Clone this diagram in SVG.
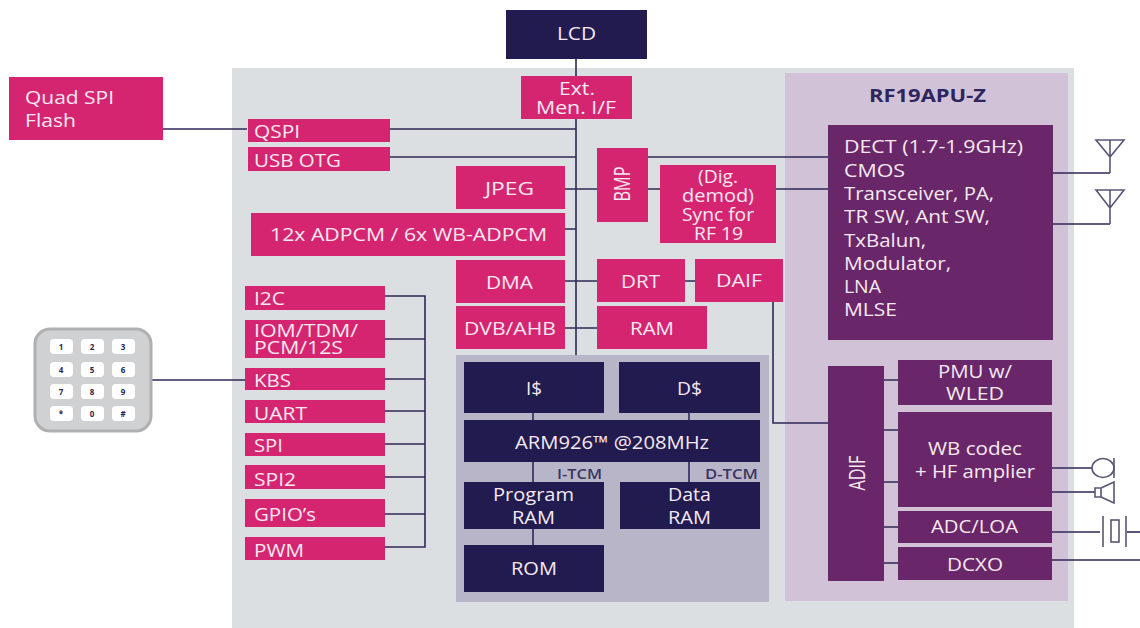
<svg xmlns="http://www.w3.org/2000/svg" width="1140" height="628" viewBox="0 0 1140 628">
<style>
text{font-family:"Open Sans","Noto Sans",sans-serif;font-size:18px;fill:#f6e9f0;text-anchor:middle}
.l{text-anchor:start}
.r{font-size:21px}
.p{fill:#d52571}.n{fill:#211b50}.v{fill:#692769}
.c{fill:none;stroke:#2e2857;stroke-width:1.6}
.k{fill:#fff}.kt{font-size:8px;font-weight:bold;fill:#2a2650}
.d{font-size:15px;fill:#3a3463;font-weight:600}
.t{font-weight:bold;fill:#2e2560;font-size:17px}
.w{fill:none;stroke:#5c5475;stroke-width:1.6}
</style>
<g id="backgrounds">
<rect x="232" y="68" width="842" height="560" fill="#dcdfe2"/>
<rect x="785" y="73" width="283" height="528" fill="#d2c2d7"/>
<rect x="456" y="355" width="313" height="247" fill="#b9b5c8"/>
</g>
<g id="connectors">
<path class="c" d="M576 58V355M163 129H247M390 129H576M390 157H576M565 189H597M565 229H576M565 281H597M685 281H695M565 328H597M648 189H660M648 157H828M776 189H828"/>
<path class="c" d="M385 296H425V547H385M385 339H425M385 379H425M385 411H425M385 444H425M385 477H425M385 514H425M148 380H247"/>
<path class="c" d="M773 302V423H828M533 413V420M689 413V420M533 462V482M689 462V482M533 528V545"/>
<path class="c" d="M884 380H898M884 430H898M884 482H898M884 527H898M884 563H898"/>
<path class="c" d="M1053 173H1110M1053 224H1110M1052 468H1092M1052 492H1095M1052 532H1100M1052 560H1140"/>
</g>
<g id="lcd"><rect class="n" x="506" y="10" width="141" height="49"/><text x="576.500" y="40" textLength="39" lengthAdjust="spacingAndGlyphs">LCD</text></g>
<g id="quad-spi-flash"><rect class="p" x="9" y="77" width="154" height="63"/><text class="l" x="25" y="104" textLength="89" lengthAdjust="spacingAndGlyphs">Quad SPI</text><text class="l" x="25" y="127" textLength="51" lengthAdjust="spacingAndGlyphs">Flash</text></g>
<g id="ext-mem"><rect class="p" x="521" y="76" width="111" height="43"/><text x="577" y="95" textLength="36" lengthAdjust="spacingAndGlyphs">Ext.</text><text x="576" y="114" textLength="80" lengthAdjust="spacingAndGlyphs">Men. I/F</text></g>
<g id="qspi"><rect class="p" x="248" y="119" width="142" height="23"/><text class="l" x="254" y="138" textLength="46" lengthAdjust="spacingAndGlyphs">QSPI</text></g>
<g id="usb-otg"><rect class="p" x="248" y="147" width="142" height="24"/><text class="l" x="254" y="167" textLength="87" lengthAdjust="spacingAndGlyphs">USB OTG</text></g>
<g id="jpeg"><rect class="p" x="456" y="166" width="109" height="43"/><text x="509.500" y="195" textLength="49" lengthAdjust="spacingAndGlyphs">JPEG</text></g>
<g id="adpcm"><rect class="p" x="251" y="213" width="314" height="43"/><text x="408.500" y="241" textLength="277" lengthAdjust="spacingAndGlyphs">12x ADPCM / 6x WB-ADPCM</text></g>
<g id="bmp"><rect class="p" x="597" y="148" width="51" height="74"/><text class="r" transform="translate(630 184) rotate(-90)" textLength="35" lengthAdjust="spacingAndGlyphs">BMP</text></g>
<g id="sync"><rect class="p" x="660" y="165" width="116" height="78"/><text x="718" y="183" textLength="40" lengthAdjust="spacingAndGlyphs">(Dig.</text><text x="718" y="202" textLength="72" lengthAdjust="spacingAndGlyphs">demod)</text><text x="718" y="221" textLength="72" lengthAdjust="spacingAndGlyphs">Sync for</text><text x="718.500" y="240" textLength="49" lengthAdjust="spacingAndGlyphs">RF 19</text></g>
<g id="dma"><rect class="p" x="456" y="260" width="109" height="43"/><text x="509.500" y="289" textLength="47" lengthAdjust="spacingAndGlyphs">DMA</text></g>
<g id="drt"><rect class="p" x="597" y="259" width="88" height="43"/><text x="640.500" y="288" textLength="39" lengthAdjust="spacingAndGlyphs">DRT</text></g>
<g id="daif"><rect class="p" x="695" y="259" width="88" height="43"/><text x="739" y="287" textLength="46" lengthAdjust="spacingAndGlyphs">DAIF</text></g>
<g id="dvb"><rect class="p" x="456" y="306" width="109" height="43"/><text x="510" y="335" textLength="92" lengthAdjust="spacingAndGlyphs">DVB/AHB</text></g>
<g id="ram"><rect class="p" x="597" y="306" width="110" height="43"/><text x="652" y="335" textLength="44" lengthAdjust="spacingAndGlyphs">RAM</text></g>
<g id="i2c"><rect class="p" x="245" y="286" width="140" height="24"/><text class="l" x="254" y="305" textLength="31" lengthAdjust="spacingAndGlyphs">I2C</text></g>
<g id="iom"><rect class="p" x="245" y="320" width="140" height="38"/><text class="l" x="254" y="337" textLength="104" lengthAdjust="spacingAndGlyphs">IOM/TDM/</text><text class="l" x="254" y="354" textLength="89" lengthAdjust="spacingAndGlyphs">PCM/12S</text></g>
<g id="kbs"><rect class="p" x="245" y="368" width="140" height="22"/><text class="l" x="254" y="387" textLength="37" lengthAdjust="spacingAndGlyphs">KBS</text></g>
<g id="uart"><rect class="p" x="245" y="400" width="140" height="23"/><text class="l" x="254" y="420" textLength="53" lengthAdjust="spacingAndGlyphs">UART</text></g>
<g id="spi"><rect class="p" x="245" y="433" width="140" height="23"/><text class="l" x="254" y="452" textLength="29" lengthAdjust="spacingAndGlyphs">SPI</text></g>
<g id="spi2"><rect class="p" x="245" y="465" width="140" height="24"/><text class="l" x="254" y="486" textLength="42" lengthAdjust="spacingAndGlyphs">SPI2</text></g>
<g id="gpio"><rect class="p" x="245" y="499" width="140" height="28"/><text class="l" x="254" y="521" textLength="62" lengthAdjust="spacingAndGlyphs">GPIO’s</text></g>
<g id="pwm"><rect class="p" x="245" y="537" width="140" height="23"/><text class="l" x="254" y="557" textLength="50" lengthAdjust="spacingAndGlyphs">PWM</text></g>
<g id="keypad">
<rect x="35" y="329" width="116" height="102" rx="15" fill="#cfd1d3" stroke="#aeb0b2" stroke-width="3"/>
<rect class="k" x="50" y="339" width="23" height="15" rx="4"/><rect class="k" x="81" y="339" width="23" height="15" rx="4"/><rect class="k" x="112" y="339" width="23" height="15" rx="4"/>
<rect class="k" x="50" y="362" width="23" height="15" rx="4"/><rect class="k" x="81" y="362" width="23" height="15" rx="4"/><rect class="k" x="112" y="362" width="23" height="15" rx="4"/>
<rect class="k" x="50" y="384" width="23" height="15" rx="4"/><rect class="k" x="81" y="384" width="23" height="15" rx="4"/><rect class="k" x="112" y="384" width="23" height="15" rx="4"/>
<rect class="k" x="50" y="406" width="23" height="15" rx="4"/><rect class="k" x="81" y="406" width="23" height="15" rx="4"/><rect class="k" x="112" y="406" width="23" height="15" rx="4"/>
<text class="kt" x="61" y="350">1</text><text class="kt" x="92" y="350">2</text><text class="kt" x="123" y="350">3</text>
<text class="kt" x="61" y="373">4</text><text class="kt" x="92" y="373">5</text><text class="kt" x="123" y="373">6</text>
<text class="kt" x="61" y="395">7</text><text class="kt" x="92" y="395">8</text><text class="kt" x="123" y="395">9</text>
<text class="kt" x="61" y="417">*</text><text class="kt" x="92" y="417">0</text><text class="kt" x="123" y="417">#</text>
</g>
<g id="icache"><rect class="n" x="464" y="362" width="140" height="51"/><text x="534" y="395" textLength="16" lengthAdjust="spacingAndGlyphs">I$</text></g>
<g id="dcache"><rect class="n" x="619" y="362" width="141" height="51"/><text x="689.500" y="395" textLength="25" lengthAdjust="spacingAndGlyphs">D$</text></g>
<g id="arm"><rect class="n" x="464" y="420" width="296" height="42"/><text x="612" y="449" textLength="194" lengthAdjust="spacingAndGlyphs">ARM926™ @208MHz</text></g>
<text class="d" x="579.500" y="479" textLength="45" lengthAdjust="spacingAndGlyphs">I-TCM</text>
<text class="d" x="731.500" y="479" textLength="53" lengthAdjust="spacingAndGlyphs">D-TCM</text>
<g id="program-ram"><rect class="n" x="464" y="482" width="140" height="47"/><text x="533.500" y="501" textLength="81" lengthAdjust="spacingAndGlyphs">Program</text><text x="533.500" y="524" textLength="43" lengthAdjust="spacingAndGlyphs">RAM</text></g>
<g id="data-ram"><rect class="n" x="620" y="482" width="140" height="47"/><text x="689.500" y="501" textLength="43" lengthAdjust="spacingAndGlyphs">Data</text><text x="689.500" y="524" textLength="43" lengthAdjust="spacingAndGlyphs">RAM</text></g>
<g id="rom"><rect class="n" x="464" y="545" width="140" height="47"/><text x="534" y="575" textLength="46" lengthAdjust="spacingAndGlyphs">ROM</text></g>
<text class="t" x="927.500" y="102" textLength="117" lengthAdjust="spacingAndGlyphs">RF19APU-Z</text>
<g id="dect"><rect class="v" x="828" y="125" width="225" height="215"/>
<text class="l" x="844" y="153" textLength="179" lengthAdjust="spacingAndGlyphs">DECT (1.7-1.9GHz)</text><text class="l" x="844" y="177" textLength="61" lengthAdjust="spacingAndGlyphs">CMOS</text><text class="l" x="844" y="200" textLength="150" lengthAdjust="spacingAndGlyphs">Transceiver, PA,</text><text class="l" x="844" y="223" textLength="146" lengthAdjust="spacingAndGlyphs">TR SW, Ant SW,</text><text class="l" x="844" y="247" textLength="82" lengthAdjust="spacingAndGlyphs">TxBalun,</text><text class="l" x="844" y="270" textLength="107" lengthAdjust="spacingAndGlyphs">Modulator,</text><text class="l" x="844" y="293" textLength="37" lengthAdjust="spacingAndGlyphs">LNA</text><text class="l" x="844" y="316" textLength="53" lengthAdjust="spacingAndGlyphs">MLSE</text></g>
<g id="adif"><rect class="v" x="828" y="366" width="56" height="215"/><text class="r" transform="translate(865 473) rotate(-90)" textLength="35" lengthAdjust="spacingAndGlyphs">ADIF</text></g>
<g id="pmu"><rect class="v" x="898" y="360" width="154" height="45"/><text x="975" y="378" textLength="74" lengthAdjust="spacingAndGlyphs">PMU w/</text><text x="975" y="400" textLength="58" lengthAdjust="spacingAndGlyphs">WLED</text></g>
<g id="wb"><rect class="v" x="898" y="412" width="154" height="95"/><text x="975" y="455" textLength="94" lengthAdjust="spacingAndGlyphs">WB codec</text><text x="975" y="478" textLength="120" lengthAdjust="spacingAndGlyphs">+ HF amplier</text></g>
<g id="adc"><rect class="v" x="898" y="511" width="154" height="32"/><text x="974.500" y="533" textLength="87" lengthAdjust="spacingAndGlyphs">ADC/LOA</text></g>
<g id="dcxo"><rect class="v" x="898" y="547" width="154" height="33"/><text x="975" y="571" textLength="56" lengthAdjust="spacingAndGlyphs">DCXO</text></g>
<g id="antenna-1"><path class="w" d="M1096 140H1124L1110 157ZM1110 140V173"/></g>
<g id="antenna-2"><path class="w" d="M1096 190H1124L1110 208ZM1110 190V224"/></g>
<g id="microphone"><ellipse cx="1103" cy="468" rx="11" ry="9.500" fill="none" stroke="#5c5475" stroke-width="1.6"/><path class="w" d="M1114 458V478"/></g>
<g id="speaker"><path class="w" d="M1095 488H1101V497H1095ZM1101 488L1114 482V503L1101 497"/></g>
<g id="crystal"><path class="w" d="M1103 516V547M1126 516V547"/><rect x="1111" y="520" width="8" height="22" fill="none" stroke="#5c5475" stroke-width="1.6"/><path class="c" d="M1127 532H1140"/></g>
</svg>
